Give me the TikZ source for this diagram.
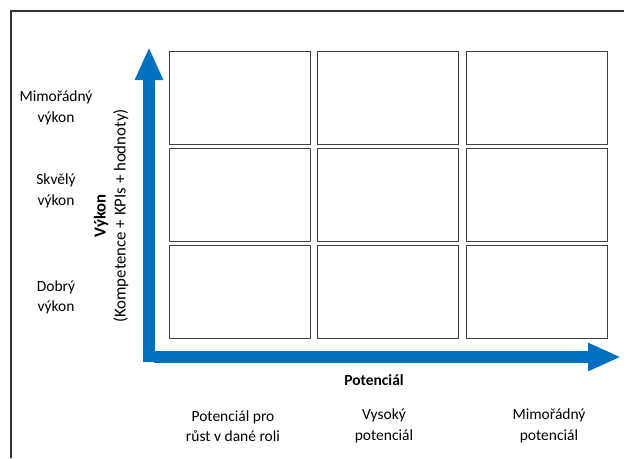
\documentclass[tikz,border=0pt]{standalone}
\usepackage{fontspec}
\setmainfont{Carlito}
\usepackage{xcolor}
\usetikzlibrary{arrows.meta, positioning}

\definecolor{axisblue}{HTML}{0070C0}

\begin{document}
\begin{tikzpicture}[
			x=1pt, y=-1pt,
			node distance=4pt and 7.5pt,
			cell/.style={rectangle, minimum width=141pt, minimum height=93pt, outer sep=0pt, inner sep=0pt, draw=black!75, line width=1pt},
			lbl/.style={align=center, font=\fontsize{15.5}{20.5}\selectfont, inner sep=0pt},
			axis/.style={draw=axisblue, line width=12pt, -{Triangle[length=33pt, width=26pt]}}
			]
			
			% Rahmen
			\useasboundingbox (0,0) rectangle (624,458);
			\draw [line width=2pt, black!80] (11,458) -- (11,11) -- (624,11);
			
			% Matice 3x3
			\node (c11) [cell] at (239.5,97.5) {};
			\node (c12) [cell, right=of c11] {};
			\node (c13) [cell, right=of c12] {};
			\node (c21) [cell, below=of c11] {};
			\node (c22) [cell, right=of c21] {};
			\node (c23) [cell, right=of c22] {};
			\node (c31) [cell, below=of c21] {};
			\node (c32) [cell, right=of c31] {};
			\node (c33) [cell, right=of c32] {};
			
			% Osy
			\coordinate (ybottom) at (149,362);
			\coordinate (ytip) at (149,47);
			\coordinate (xleft) at (154,357);
			\coordinate (xtip) at (621,357);
			\draw [axis] (ybottom) -- (ytip);
			\draw [axis] (xleft) -- (xtip);
			
			% Popisky osy y
			\node (vykon) [lbl, rotate=90, font=\fontsize{16.8}{20}\selectfont] at (111,216) {\textbf{Výkon}\\(Kompetence + KPIs + hodnoty)};
			\node (r1) [lbl] at (56,108) {Mimořádný\\výkon};
			\node (r2) [lbl] at (56,191) {Skvělý\\výkon};
			\node (r3) [lbl] at (56,297.5) {Dobrý\\výkon};
			
			% Popisky osy x
			\node (potencial) [lbl] at (374,380) {\textbf{Potenciál}};
			\node (s1) [lbl] at (233,426) {Potenciál pro\\růst v dané roli};
			\node (s2) [lbl] at (384,426) {Vysoký\\potenciál};
			\node (s3) [lbl] at (549,426) {Mimořádný\\potenciál};
			
		\end{tikzpicture}
\end{document}
